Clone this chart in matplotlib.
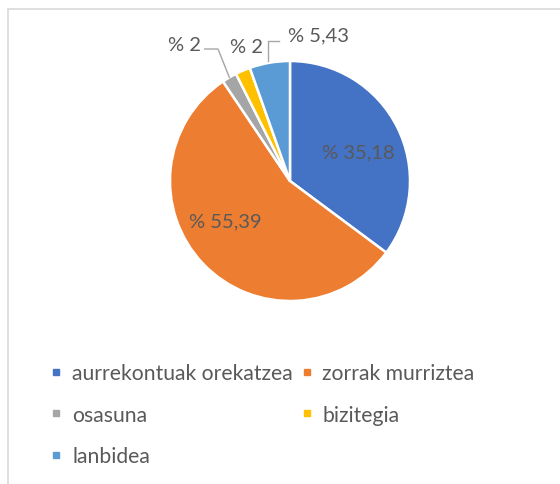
import numpy as np
import matplotlib.pyplot as plt
from matplotlib.lines import Line2D
from matplotlib.patches import Rectangle

categories = ["aurrekontuak orekatzea", "zorrak murriztea", "osasuna", "bizitegia", "lanbidea"]
values = [35.18, 55.39, 2, 2, 5.43]
colors = ["#4472C4", "#ED7D31", "#A5A5A5", "#FFC000", "#5B9BD5"]

# label placement (data units, pie radius = 1)
label_pos = [(0.57, 0.24), (-0.54, -0.33), (-0.88, 1.14), (-0.36, 1.12), (0.24, 1.22)]

plt.rcParams['font.family'] = ['Lato', 'DejaVu Sans']
txt_color = "#595959"

fig = plt.figure(figsize=(5.6, 4.85), dpi=100)
W, H = 560, 485

# chart border (runs off the right and bottom edge)
fig.patches.append(Rectangle((8 / W, -0.1), 1.2, 1 - 10 / H + 0.1, transform=fig.transFigure,
                             fill=False, edgecolor="#D9D9D9", lw=1.2))

cx, cy, r = 290, 182, 120
ax = fig.add_axes([(cx - r) / W, (H - cy - r) / H, 2 * r / W, 2 * r / H])
wedges, _ = ax.pie(values, colors=colors, startangle=90, counterclock=False, radius=1,
                   wedgeprops=dict(edgecolor="white", linewidth=1.8))
ax.set_xlim(-1, 1)
ax.set_ylim(-1, 1)
ax.set_aspect("equal")
ax.axis("off")

def fmt(v):
    return "% " + f"{v:g}".replace(".", ",")

for i, (v, (lx, ly)) in enumerate(zip(values, label_pos)):
    ax.text(lx, ly, fmt(v), ha="center", va="center", fontsize=14.5, color=txt_color, clip_on=False)

# leader lines for the small slices
w = wedges[2]
mid = np.deg2rad((w.theta1 + w.theta2) / 2)
ax.plot([-0.71, -0.60, np.cos(mid) * 1.0], [1.1, 1.1, np.sin(mid) * 1.0],
        color="#A6A6A6", lw=1, clip_on=False)
ax.plot([-0.18, -0.18, -0.09], [1.0, 1.17, 1.17], color="#A6A6A6", lw=1, clip_on=False)

# legend, row-major order like the original
order = [0, 2, 4, 1, 3]
handles = [Line2D([], [], marker="s", ls="", color=colors[i], markersize=5) for i in order]
labels = [categories[i] for i in order]
fig.legend(handles, labels, loc="upper left", bbox_to_anchor=(50 / W, 1 - 364 / H),
           ncol=2, frameon=False, fontsize=15.2, labelcolor=txt_color,
           handlelength=0.6, handletextpad=0.45, labelspacing=1.02, columnspacing=0.35,
           borderpad=0, borderaxespad=0)

fig.savefig("out.png", dpi=100)
